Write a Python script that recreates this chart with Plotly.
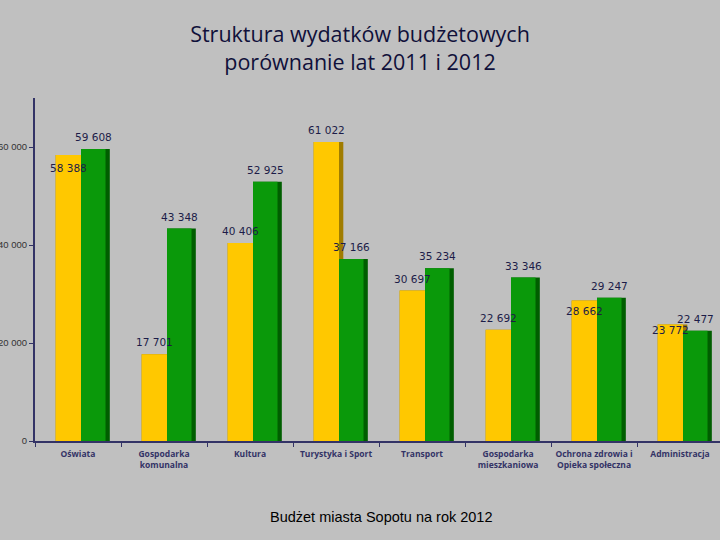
import plotly.graph_objects as go

# data
categories = [
    "Oświata",
    "Gospodarka<br>komunalna",
    "Kultura",
    "Turystyka i Sport",
    "Transport",
    "Gospodarka<br>mieszkaniowa",
    "Ochrona zdrowia i<br>Opieka społeczna",
    "Administracja",
]
values_2011 = [58388, 17701, 40406, 61022, 30697, 22692, 28662, 23772]
values_2012 = [59608, 43348, 52925, 37166, 35234, 33346, 29247, 22477]

# label vertical offset (px) for the 2011 labels, as placed on the slide
shift_2011 = [-13, 12, 12, 12, 12, 12, -10, -5]


def fmt(v):
    return f"{v:,}".replace(",", " ")


colors = {
    "bg": "#c0c0c0",
    "yellow": "#ffc800",
    "yellow_side": "#a07c00",
    "green": "#0a990a",
    "green_side": "#005e00",
    "axis": "#333366",
    "label": "#1c1c48",
}

# bar geometry in category units
y_off, y_w, side = -0.26, 0.295, 0.05
g_off, g_w = y_off + y_w, 0.285

fig = go.Figure()
for vals, off, w, front, dark in [
    (values_2011, y_off, y_w, colors["yellow"], colors["yellow_side"]),
    (values_2012, g_off, g_w, colors["green"], colors["green_side"]),
]:
    fig.add_trace(go.Bar(x=categories, y=vals, offset=off, width=w + side,
                         marker=dict(color=dark, line=dict(width=0)),
                         showlegend=False, hoverinfo="skip"))
    fig.add_trace(go.Bar(x=categories, y=vals, offset=off, width=w,
                         marker=dict(color=front, line=dict(width=0)),
                         showlegend=False))

px_per_unit = 86
annotations = []
for i, cat in enumerate(categories):
    annotations.append(dict(
        x=cat, y=values_2011[i], text=fmt(values_2011[i]), showarrow=False,
        xshift=(y_off + y_w / 2) * px_per_unit, yshift=shift_2011[i],
        font=dict(family="DejaVu Sans", size=10.5, color=colors["label"]),
    ))
    annotations.append(dict(
        x=cat, y=values_2012[i], text=fmt(values_2012[i]), showarrow=False,
        xshift=(g_off + g_w / 2) * px_per_unit, yshift=12,
        font=dict(family="DejaVu Sans", size=10.5, color=colors["label"]),
    ))

annotations.append(dict(
    x=0.505, y=-0.251, xref="paper", yref="paper", showarrow=False,
    text="Budżet miasta Sopotu na rok 2012",
    font=dict(family="Liberation Sans", size=14.5, color="black"),
))

fig.update_layout(
    width=720,
    height=540,
    barmode="overlay",
    paper_bgcolor=colors["bg"],
    plot_bgcolor=colors["bg"],
    margin=dict(l=35, r=0, t=98, b=99),
    title=dict(
        text="Struktura wydatków budżetowych<br>porównanie lat 2011 i 2012",
        x=0.5, xanchor="center", y=0.922, yanchor="middle",
        font=dict(family="Open Sans", size=21.5, color="#10103a"),
    ),
    annotations=annotations,
)

fig.update_xaxes(
    range=[-0.5, 7.465],
    showline=True, linecolor=colors["axis"], linewidth=2,
    ticks="outside", tickson="boundaries", ticklen=4, tickcolor=colors["axis"],
    tickfont=dict(family="Open Sans", size=8.5, color=colors["axis"]),
    tickangle=0, ticklabelstandoff=4,
    showgrid=False, automargin=False,
)
fig.update_xaxes(
    ticktext=[f"<b>{c}</b>" for c in categories], tickvals=categories,
)
fig.update_yaxes(
    range=[0, 70000], tickvals=[0, 20000, 40000, 60000],
    ticktext=["0", "20 000", "40 000", "60 000"],
    showline=True, linecolor=colors["axis"], linewidth=2,
    ticks="outside", ticklen=4, tickcolor=colors["axis"],
    tickfont=dict(family="Liberation Sans", size=9.5, color="#333333"),
    showgrid=False, zeroline=False, automargin=False,
)

fig.write_html(
    "out.html",
    config={"displayModeBar": False},
    post_script="document.body.style.margin='0';",
)
